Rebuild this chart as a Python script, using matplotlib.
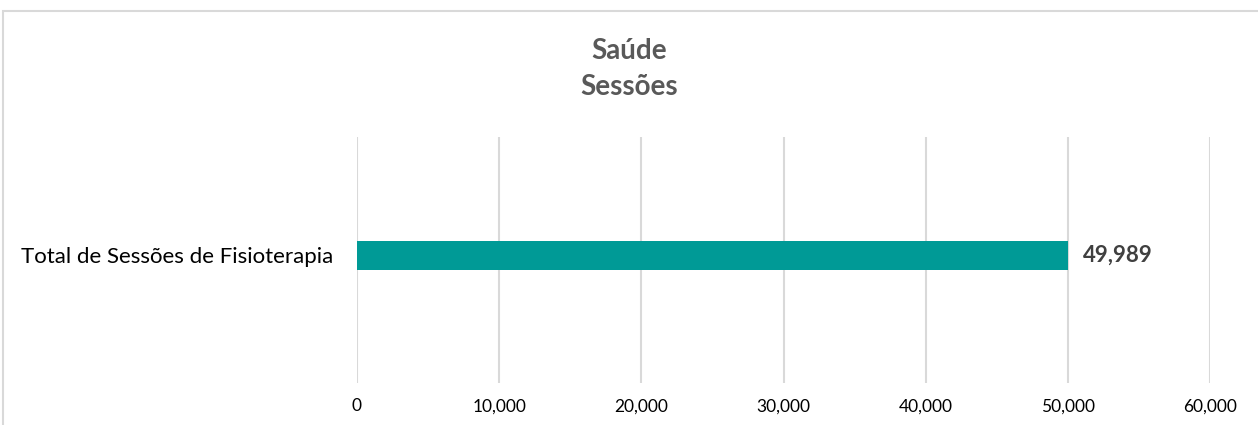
import matplotlib
matplotlib.use("Agg")
import matplotlib.pyplot as plt
from matplotlib.ticker import FuncFormatter, MultipleLocator
from matplotlib.patches import Rectangle

plt.rcParams['font.family'] = ['Lato', 'DejaVu Sans']

title_lines = ["Saúde", "Sessões"]
categories = ["Total de Sessões de Fisioterapia"]
values = [49989]
x_max = 60000
x_step = 10000

W, H = 1258, 425
fig = plt.figure(figsize=(W / 100, H / 100), dpi=100)

# outer chart frame (only top and left edges fall inside the canvas)
fig.patches.append(Rectangle((3 / W, -0.1), 1.2, (H - 11) / H + 0.1,
                             transform=fig.transFigure, fill=False,
                             edgecolor="#d9d9d9", linewidth=1.5))

ax = fig.add_axes([357 / W, 1 - 383 / H, (1210 - 357) / W, (383 - 137) / H])

ypos = list(range(len(categories)))
bars = ax.barh(ypos, values, height=0.118, color="#009a96", zorder=3)

ax.set_xlim(0, x_max)
ax.set_ylim(-0.5183, 0.4817)
ax.xaxis.set_major_locator(MultipleLocator(x_step))
ax.xaxis.set_major_formatter(FuncFormatter(lambda v, p: f"{int(v):,}"))
ax.grid(axis="x", color="#d9d9d9", linewidth=1.5, zorder=0)
for s in ax.spines.values():
    s.set_visible(False)
ax.tick_params(axis="x", length=0, pad=11, labelsize=12.5, labelcolor="#000000")
ax.set_yticks(ypos)
ax.set_yticklabels(categories, fontsize=16, color="#000000")
ax.tick_params(axis="y", length=0, pad=17)

for b, v in zip(bars, values):
    ax.text(v + x_max * 0.0175, b.get_y() + b.get_height() / 2, f"{v:,}",
            va="center", ha="left", fontsize=16, fontweight="bold",
            color="#404040")

fig.text(0.5, 1 - 51 / H, title_lines[0], ha="center", va="center",
         fontsize=20, fontweight="bold", color="#595959")
fig.text(0.5, 1 - 87 / H, title_lines[1], ha="center", va="center",
         fontsize=20, fontweight="bold", color="#595959")

fig.savefig("out.png", dpi=100, facecolor="white")
